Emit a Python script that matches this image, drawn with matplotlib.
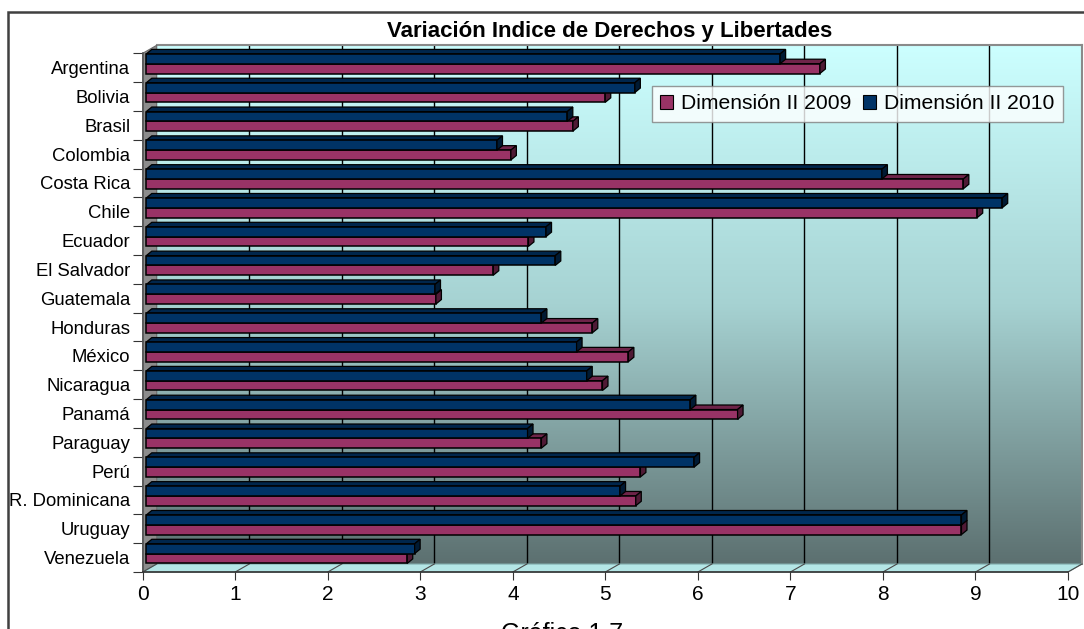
import numpy as np
import matplotlib
matplotlib.use("Agg")
import matplotlib.pyplot as plt
from matplotlib.patches import Patch, Polygon, Rectangle
from matplotlib.transforms import ScaledTranslation, IdentityTransform
from matplotlib.colors import LinearSegmentedColormap

plt.rcParams['font.family'] = ['Liberation Sans', 'DejaVu Sans']

# data
countries = ["Argentina", "Bolivia", "Brasil", "Colombia", "Costa Rica", "Chile",
             "Ecuador", "El Salvador", "Guatemala", "Honduras", "México", "Nicaragua",
             "Panamá", "Paraguay", "Perú", "R. Dominicana", "Uruguay", "Venezuela"]
dim_2009 = [7.28, 4.96, 4.61, 3.94, 8.83, 8.98, 4.13, 3.75, 3.13, 4.82, 5.21, 4.93,
            6.39, 4.27, 5.34, 5.29, 8.81, 2.82]
dim_2010 = [6.85, 5.28, 4.55, 3.79, 7.95, 9.25, 4.32, 4.42, 3.12, 4.27, 4.65, 4.76,
            5.88, 4.12, 5.92, 5.12, 8.81, 2.90]
x_ticks = list(range(0, 11))

title = "Variación Indice de Derechos y Libertades"
label_2009 = "Dimensión II 2009"
label_2010 = "Dimensión II 2010"

W, H = 1084, 629
fig = plt.figure(figsize=(W / 100, H / 100), dpi=100)


def rect(left, top, right, bottom):
    return [left / W, 1 - bottom / H, (right - left) / W, (bottom - top) / H]


# front plane and back wall (3D offset)
fl, ft, fr, fb = 142.7, 53.3, 1068.0, 572.0
ddx, ddy = 14.0, 8.0

back = fig.add_axes(rect(fl + ddx, ft - ddy, fr + ddx, fb - ddy))
back.set_zorder(0)
cmap = LinearSegmentedColormap.from_list("wall", ["#ccffff", "#a6d2d2", "#5c7070"])
grad = np.linspace(0, 1, 256).reshape(-1, 1)
back.imshow(grad, aspect="auto", cmap=cmap, extent=(0, 10, 17.5, -0.5), zorder=0)
back.set_xlim(0, 10)
back.set_ylim(17.5, -0.5)
for xv in x_ticks[1:-1]:
    back.axvline(xv, color="black", lw=1.0, zorder=1)
for s in ["left", "bottom"]:
    back.spines[s].set_visible(False)
for s in ["top", "right"]:
    back.spines[s].set_color("#8a8a8a")
    back.spines[s].set_linewidth(1.5)
back.set_xticks([])
back.set_yticks([])

ax = fig.add_axes(rect(fl, ft, fr, fb))
ax.set_zorder(1)
ax.patch.set_alpha(0)
ax.set_xlim(0, 10)
ax.set_ylim(17.5, -0.5)

y = np.arange(len(countries))
h = 0.34

# side wall and floor
to_px = ax.transData.transform
p_tl, p_bl = to_px((0, -0.5)), to_px((0, 17.5))
p_br = to_px((10, 17.5))
wall = Polygon([p_tl, p_bl, p_bl + [ddx, ddy], p_tl + [ddx, ddy]], closed=True,
               transform=IdentityTransform(), facecolor="#8c8c8c", edgecolor="#6a6a6a",
               lw=0.8, zorder=1, clip_on=False)
ax.add_patch(wall)
floor = Polygon([p_bl, p_br, p_br + [ddx, ddy], p_bl + [ddx, ddy]], closed=True,
                transform=IdentityTransform(), facecolor="#b4e6e6", edgecolor="#7fa9a9",
                lw=0.8, zorder=1, clip_on=False)
ax.add_patch(floor)
for xv in x_ticks:
    p = to_px((xv, 17.5))
    ax.plot([p[0], p[0] + ddx], [p[1], p[1] + ddy], transform=IdentityTransform(),
            color="#4a4a4a", lw=0.8, zorder=1.5, clip_on=False)

# bars with 3D caps
off = ScaledTranslation(3.6 / 100, 4.0 / 100, fig.dpi_scale_trans)
bdx, bdy = 5.5, 4.5
series = [(dim_2009, y + h / 2, "#993366", "#6e2449", "#4f1a35", 3),
          (dim_2010, y - h / 2, "#003366", "#00264c", "#001a33", 5)]
for vals, yc, col, top_col, side_col, z in series:
    ax.barh(yc, vals, height=h, color=col, edgecolor="black", lw=1.1,
            transform=ax.transData + off, zorder=z, clip_on=False)
    tr = ax.transData + off
    for v, yy in zip(vals, yc):
        x0, y0 = tr.transform((0, yy - h / 2))
        x1, y1 = tr.transform((v, yy + h / 2))
        # y0 is the upper edge in display (inverted axis)
        top = Polygon([(x0, y0), (x1, y0), (x1 + bdx, y0 + bdy), (x0 + bdx, y0 + bdy)],
                      closed=True, transform=IdentityTransform(), facecolor=top_col,
                      edgecolor="black", lw=0.9, zorder=z - 0.5, clip_on=False)
        side = Polygon([(x1, y1), (x1, y0), (x1 + bdx, y0 + bdy), (x1 + bdx, y1 + bdy)],
                       closed=True, transform=IdentityTransform(), facecolor=side_col,
                       edgecolor="black", lw=0.9, zorder=z + 0.5, clip_on=False)
        ax.add_patch(top)
        ax.add_patch(side)

# axes / ticks
ax.set_yticks(np.arange(-0.5, 18, 1), minor=False)
ax.set_yticklabels([])
ax.set_yticks(y, minor=True)
ax.set_yticklabels(countries, minor=True, fontsize=13.3)
ax.tick_params(axis="y", which="major", length=7.2, width=0.8, color="#333333")
ax.tick_params(axis="y", which="minor", length=0, pad=9)
ax.set_xticks(x_ticks)
ax.set_xticklabels([str(t) for t in x_ticks], fontsize=15)
ax.tick_params(axis="x", length=5.8, width=0.8, color="#333333", pad=3.5)
for s in ["top", "right"]:
    ax.spines[s].set_visible(False)
ax.spines["left"].set_color("#555555")
ax.spines["bottom"].set_color("#333333")
ax.spines["left"].set_linewidth(1.2)
ax.spines["bottom"].set_linewidth(1.2)

# legend
handles = [Patch(facecolor="#993366", edgecolor="black", lw=0.8, label=label_2009),
           Patch(facecolor="#003366", edgecolor="black", lw=0.8, label=label_2010)]
leg = fig.legend(handles=handles, ncol=2, loc="upper left",
                 bbox_to_anchor=(651.7 / W, 1 - 86 / H), fontsize=15.2,
                 frameon=True, fancybox=False, edgecolor="#808080", borderaxespad=0,
                 handlelength=0.6, handleheight=0.6, handletextpad=0.4,
                 columnspacing=0.55, borderpad=0.4)
leg.get_frame().set_linewidth(1.0)
leg.set_zorder(10)

# title, outer border, caption
fig.text(609.7 / W, 1 - 36.7 / H, title, ha="center", va="baseline",
         fontsize=16, fontweight="bold")
fig.add_artist(Rectangle((7.6 / W, -0.1), 1.2, 1 - 11.7 / H + 0.1,
                         transform=fig.transFigure, facecolor="none",
                         edgecolor="#404040", lw=1.8, zorder=20))
fig.text(562 / W, 1 - 641 / H, "Gráfico 1.7", ha="center", va="baseline", fontsize=18)

fig.savefig("out.png", dpi=100)
